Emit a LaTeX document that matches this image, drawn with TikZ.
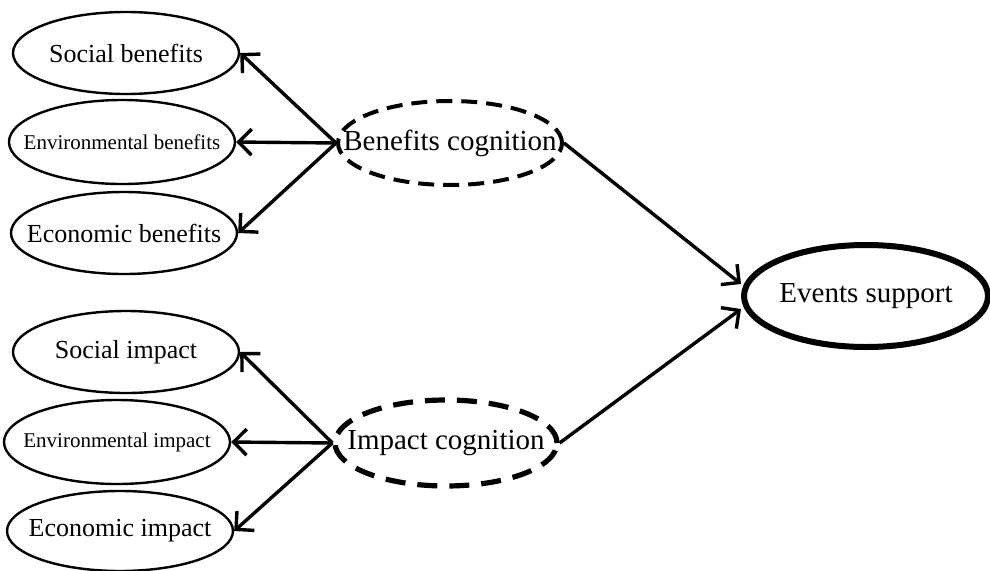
\documentclass[tikz,border=0pt]{standalone}
\usepackage{fontspec}
\setmainfont{Liberation Serif}
\usetikzlibrary{shapes.geometric,arrows.meta}
\begin{document}
\begin{tikzpicture}[x=1pt,y=-1pt,
  ind/.style={draw, ellipse, line width=2.4pt, inner sep=0pt, minimum width=226pt, minimum height=82pt, font=\fontsize{26}{30}\selectfont},
  cog/.style={draw, ellipse, inner sep=0pt, minimum width=224pt, minimum height=84pt, font=\fontsize{29}{33}\selectfont},
  con/.style={line width=3.4pt, -{Straight Barb[length=13pt,width=26pt,line width=3.4pt]}}]
\useasboundingbox (0,0) rectangle (990,570);
\node[ind] (1) at (126,53) {\makebox[0pt]{Social benefits}};
\node[ind, minimum height=84pt, font=\fontsize{21}{25}\selectfont] (2) at (122,142) {\makebox[0pt]{Environmental benefits}};
\node[ind] (3) at (124,233) {\makebox[0pt]{Economic benefits}};
\node[ind] (4) at (126,352) {\makebox[0pt]{Social impact}};
\node[ind, minimum height=84pt, font=\fontsize{21}{25}\selectfont] (5) at (117,442) {\makebox[0pt]{Environmental impact}};
\node[ind, minimum height=80pt] (6) at (120,531) {\makebox[0pt]{Economic impact}};
\node[cog, line width=4pt, dash pattern=on 16pt off 9pt] (7) at (450,143) {\makebox[0pt]{Benefits cognition}};
\node[cog, line width=5.2pt, minimum width=222pt, minimum height=86pt, dash pattern=on 20pt off 12pt] (8) at (446,443) {\makebox[0pt]{Impact cognition}};
\node[cog, line width=6pt, minimum width=244pt, minimum height=102pt] (9) at (866,296) {\makebox[0pt]{Events support}};
\path[draw,con] (7.west) -- (1.east);
\path[draw,con] (7.west) -- (2.east);
\path[draw,con] (7.west) -- (3.east);
\path[draw,con] (8.west) -- (4.east);
\path[draw,con] (8.west) -- (5.east);
\path[draw,con] (8.west) -- (6.east);
\path[draw,con] (7.east) -- ([yshift=12pt]9.west);
\path[draw,con] (8.east) -- ([yshift=-13pt]9.west);
\end{tikzpicture}
\end{document}
